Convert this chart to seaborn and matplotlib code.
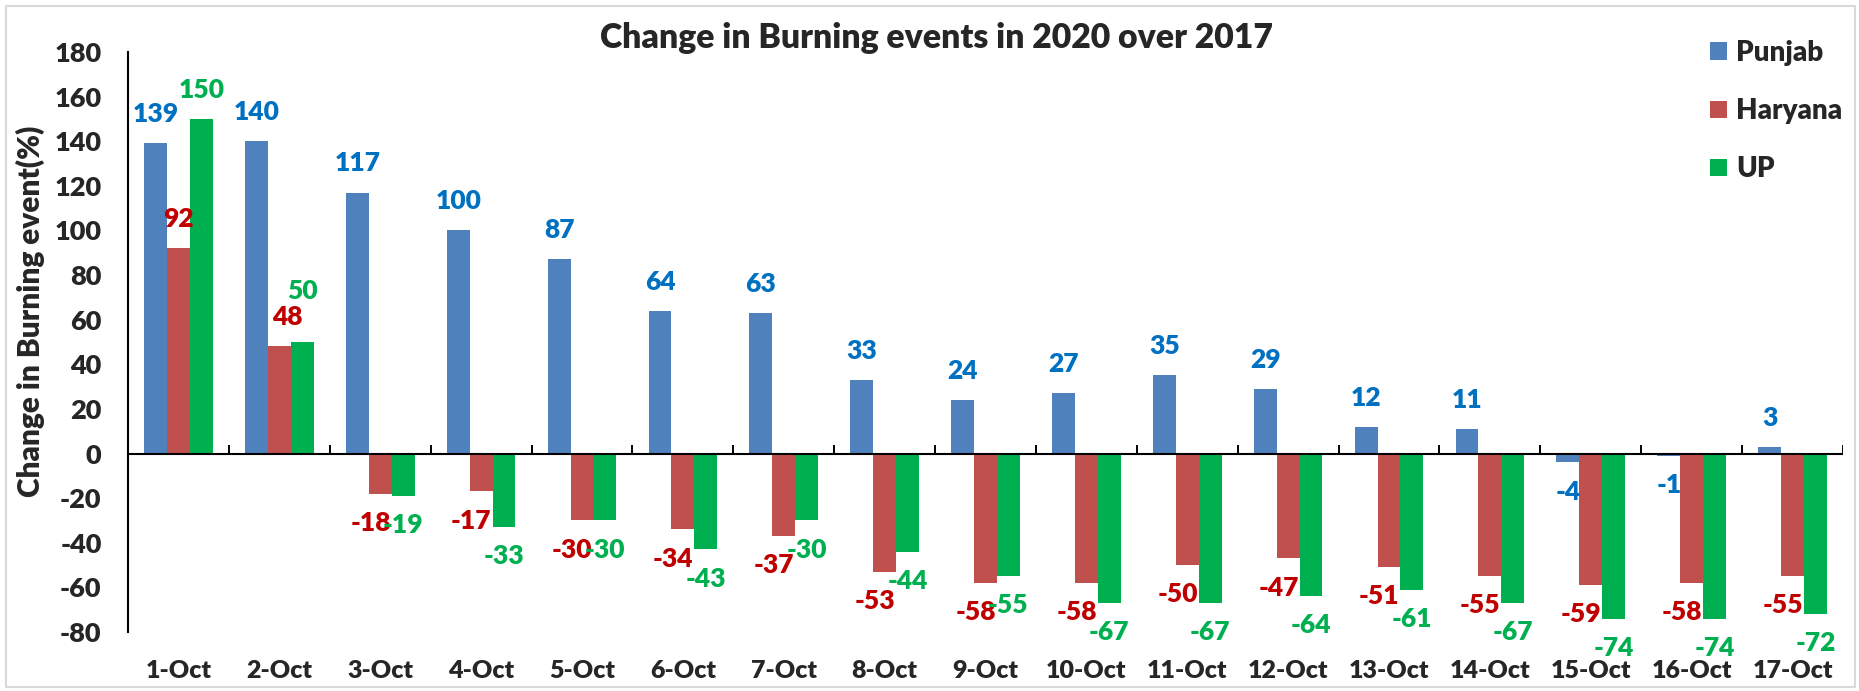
import pandas as pd
import matplotlib
matplotlib.use('Agg')
import matplotlib.pyplot as plt
import seaborn as sns
from matplotlib.patches import Rectangle

# values
dates = ['1-Oct', '2-Oct', '3-Oct', '4-Oct', '5-Oct', '6-Oct', '7-Oct', '8-Oct', '9-Oct',
         '10-Oct', '11-Oct', '12-Oct', '13-Oct', '14-Oct', '15-Oct', '16-Oct', '17-Oct']
punjab = [139, 140, 117, 100, 87, 64, 63, 33, 24, 27, 35, 29, 12, 11, -4, -1, 3]
haryana = [92, 48, -18, -17, -30, -34, -37, -53, -58, -58, -50, -47, -51, -55, -59, -58, -55]
up = [150, 50, -19, -33, -30, -43, -30, -44, -55, -67, -67, -64, -61, -67, -74, -74, -72]
states = ['Punjab', 'Haryana', 'UP']
yticks = list(range(-80, 181, 20))

bar_colors = ['#4F81BD', '#C0504D', '#00B050']
label_colors = ['#0070C0', '#C00000', '#00B050']
WT = 'heavy'


def build_frame():
    rows = []
    for state, vals in zip(states, [punjab, haryana, up]):
        for d, v in zip(dates, vals):
            rows.append([d, state, v])
    return pd.DataFrame(rows, columns=['Date', 'State', 'Change'])


def draw(df):
    sns.set_style('white')
    plt.rcParams['font.family'] = ['Lato', 'DejaVu Sans']
    plt.rcParams['font.weight'] = WT

    W, H = 1859, 691
    fig = plt.figure(figsize=(W / 100, H / 100), dpi=100)
    ax = fig.add_axes([128 / W, 1 - 632 / H, (1843 - 128) / W, (632 - 52) / H])

    sns.barplot(data=df, x='Date', y='Change', hue='State', hue_order=states,
                order=dates, palette=bar_colors, saturation=1, width=0.68,
                errorbar=None, linewidth=0, ax=ax)

    ax.set_ylim(-80, 180)
    ax.set_xlim(-0.5, len(dates) - 0.5)
    ax.set_yticks(yticks)
    ax.set_yticklabels([str(t) for t in yticks], fontsize=19.5, fontweight=WT)
    ax.tick_params(axis='y', direction='out', length=7, width=1.4, pad=12, color='black')
    ax.tick_params(axis='x', length=0, pad=20, labelsize=18)
    for lbl in ax.get_xticklabels():
        lbl.set_fontweight(WT)

    for s in ['top', 'right', 'bottom']:
        ax.spines[s].set_visible(False)
    ax.spines['left'].set_linewidth(1.5)
    ax.spines['left'].set_color('black')

    # zero line with category separator ticks
    ax.axhline(0, color='black', lw=1.5, zorder=3)
    ax.vlines([i + 0.5 for i in range(len(dates))], 0, 3.8, color='black', lw=1.4, zorder=3)

    ax.set_xlabel('')
    ax.set_ylabel('')
    fig.text(30 / W, 1 - 311 / H, 'Change in Burning event(%)', rotation=90,
             ha='center', va='center', fontsize=21.5, fontweight=WT)

    # data labels
    nudges = {('UP', 1): (0, 16), ('Haryana', 1): (6, 0)}
    for state, cont, col in zip(states, ax.containers, label_colors):
        for i, bar in enumerate(cont):
            h = bar.get_height()
            x = bar.get_x() + bar.get_width() / 2
            dy = 21 if h >= 0 else -21
            dx = -7 if (state == 'Haryana' and h < 0) else 0
            ndx, ndy = nudges.get((state, i), (0, 0))
            ax.annotate(f'{h:.0f}', (x, h), xytext=(dx + ndx, dy + ndy),
                        textcoords='offset points', ha='center', va='center',
                        fontsize=19, fontweight=WT, color=col)

    fig.text(937 / W, 1 - 38 / H, 'Change in Burning events in 2020 over 2017',
             ha='center', va='center', fontsize=24.3, fontweight=WT)

    handles, labels = ax.get_legend_handles_labels()
    ax.legend(handles, labels, loc='upper left', bbox_to_anchor=(1710 / W, 1 - 40 / H),
              bbox_transform=fig.transFigure, frameon=False, borderpad=0,
              borderaxespad=0, handlelength=0.6, handleheight=0.6,
              handletextpad=0.35, labelspacing=1.16,
              prop={'family': 'Lato', 'weight': WT, 'size': 20})

    fig.patches.append(Rectangle((6 / W, 4 / H), (1855 - 6) / W, (685 - 4) / H,
                                 transform=fig.transFigure, fill=False,
                                 edgecolor='#D9D9D9', lw=1.5))
    fig.savefig('out.png', dpi=100)


if __name__ == '__main__':
    data = build_frame()
    draw(data)
